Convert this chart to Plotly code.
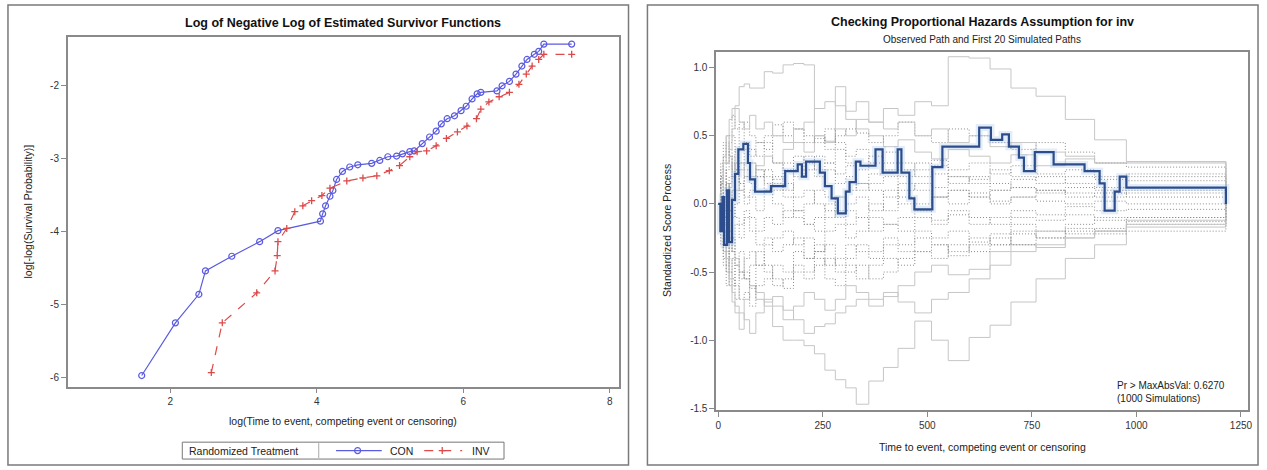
import plotly.graph_objects as go

# ---------------- Left panel: log(-log S(t)) by treatment ----------------
con_logtime = [1.61, 2.07, 2.39, 2.48, 2.84, 3.22, 3.47, 4.05, 4.08, 4.12, 4.18, 4.22,
               4.27, 4.35, 4.45, 4.56, 4.75, 4.86, 4.97, 5.09, 5.17, 5.27, 5.33, 5.44,
               5.54, 5.63, 5.70, 5.78, 5.88, 5.97, 6.04, 6.12, 6.19, 6.24, 6.46, 6.53,
               6.63, 6.72, 6.80, 6.87, 6.97, 7.03, 7.10, 7.48]
con_loglog = [-5.97, -5.25, -4.86, -4.54, -4.34, -4.14, -3.99, -3.86, -3.76, -3.65, -3.52, -3.44,
              -3.29, -3.18, -3.12, -3.09, -3.07, -3.03, -2.98, -2.97, -2.94, -2.91, -2.90, -2.80,
              -2.71, -2.63, -2.53, -2.46, -2.42, -2.35, -2.29, -2.19, -2.12, -2.10, -2.08, -2.01,
              -1.95, -1.85, -1.74, -1.65, -1.58, -1.54, -1.44, -1.44]

inv_logtime = [2.56, 2.71, 3.18, 3.43, 3.46, 3.47, 3.59, 3.70, 3.81, 3.93, 4.07, 4.18,
               4.41, 4.63, 4.82, 4.99, 5.13, 5.27, 5.37, 5.50, 5.63, 5.77, 5.92, 6.05,
               6.18, 6.24, 6.35, 6.49, 6.63, 6.76, 6.86, 6.94, 7.03, 7.10, 7.48]
inv_loglog = [-5.93, -5.25, -4.84, -4.54, -4.33, -4.14, -3.96, -3.73, -3.65, -3.58, -3.51, -3.41,
              -3.31, -3.27, -3.24, -3.17, -3.10, -2.98, -2.91, -2.90, -2.83, -2.73, -2.64, -2.56,
              -2.46, -2.33, -2.23, -2.16, -2.10, -1.99, -1.85, -1.74, -1.65, -1.58, -1.58]

groups = ["CON", "INV"]
left_xticks = [2, 4, 6, 8]
left_yticks = [-6, -5, -4, -3, -2]

# ---------------- Right panel: standardized score process ----------------
obs_time = [0, 5, 10, 14, 21, 26, 33, 40, 48, 60, 71, 76, 88, 126, 160, 190, 200, 210,
            243, 255, 271, 286, 305, 314, 329, 340, 376, 393, 429, 438, 457, 469, 512,
            536, 624, 652, 679, 695, 719, 731, 757, 802, 876, 912, 924, 948, 960, 976, 1214]
obs_score = [0.0, -0.20, 0.05, -0.30, 0.10, -0.28, 0.03, 0.22, 0.40, 0.44, 0.30, 0.18, 0.09,
             0.13, 0.24, 0.29, 0.20, 0.31, 0.23, 0.13, 0.04, -0.07, 0.09, 0.16, 0.31, 0.28,
             0.40, 0.23, 0.40, 0.23, 0.04, -0.04, 0.27, 0.42, 0.56, 0.47, 0.51, 0.42, 0.34,
             0.24, 0.38, 0.29, 0.24, 0.15, -0.05, 0.09, 0.20, 0.12, 0.0]

sim_time = [0, 6, 12, 19, 26, 33, 40, 50, 62, 75, 90, 110, 130, 155, 180, 205, 230, 255,
            280, 305, 330, 360, 395, 430, 470, 510, 550, 600, 650, 700, 760, 830, 900, 976, 1214]

sim_01 = [0, 0.15, 0.35, 0.5, 0.62, 0.70, 0.72, 0.86, 0.88, 0.85, 0.85, 0.97, 0.96, 1.02, 1.03, 1.02, 0.50, 0.46,
          0.86, 0.62, 0.55, 0.50, 0.42, 0.47, 0.38, 0.33, 0.40, 0.35, 0.30, 0.36, 0.28, 0.33, 0.30, 0.31, 0]
sim_02 = [0, -0.15, 0.05, -0.1, 0.12, 0.2, 0.1, 0.25, 0.3, 0.2, 0.28, 0.35, 0.3, 0.4, 0.45, 0.38, 0.5, 0.45,
          0.55, 0.5, 0.62, 0.6, 0.7, 0.65, 0.75, 0.72, 1.08, 1.07, 0.99, 0.85, 0.79, 0.62, 0.47, 0.31, 0]
sim_03 = [0, -0.1, -0.2, -0.3, -0.25, -0.35, -0.4, -0.5, -0.55, -0.6, -0.7, -0.75, -0.9, -1.0, -1.0, -1.04, -1.10, -1.22,
          -1.29, -1.35, -1.47, -1.30, -1.20, -1.06, -0.86, -1.00, -1.15, -0.98, -0.89, -0.72, -0.55, -0.40, -0.30, -0.17, 0]
sim_04 = [0, -0.2, -0.35, -0.5, -0.6, -0.72, -0.8, -0.92, -0.7, -0.6, -0.65, -0.72, -0.68, -0.78, -0.85, -0.95, -0.9, -0.88,
          -0.8, -0.75, -0.7, -0.75, -0.68, -0.6, -0.5, -0.45, -0.52, -0.48, -0.35, -0.3, -0.32, -0.25, -0.2, -0.12, 0]
sim_05 = [0, 0.2, -0.1, 0.3, 0.45, 0.5, 0.38, 0.55, 0.6, 0.5, 0.45, 0.5, 0.58, 0.5, 0.55, 0.45, 0.48, 0.4,
          0.5, 0.55, 0.52, 0.45, 0.5, 0.6, 0.5, 0.45, 0.55, 0.5, 0.45, 0.4, 0.45, 0.38, 0.3, 0.27, 0]
sim_06 = [0, -0.3, -0.1, -0.45, -0.2, -0.35, -0.15, -0.25, -0.1, -0.2, -0.3, -0.25, -0.35, -0.3, -0.25, -0.4, -0.35, -0.3,
          -0.45, -0.4, -0.3, -0.35, -0.25, -0.3, -0.2, -0.25, -0.2, -0.28, -0.22, -0.15, -0.2, -0.18, -0.2, -0.15, 0]
sim_07 = [0, 0.3, 0.1, 0.25, 0.4, 0.2, 0.3, 0.15, 0.25, 0.3, 0.2, 0.25, 0.18, 0.3, 0.2, 0.25, 0.35, 0.3,
          0.22, 0.28, 0.15, 0.22, 0.3, 0.25, 0.2, 0.28, 0.2, 0.18, 0.25, 0.2, 0.15, 0.2, 0.18, 0.2, 0]
sim_08 = [0, -0.2, -0.4, -0.25, -0.5, -0.6, -0.45, -0.55, -0.5, -0.62, -0.45, -0.5, -0.6, -0.55, -0.45, -0.5, -0.4, -0.55,
          -0.6, -0.5, -0.45, -0.55, -0.5, -0.4, -0.35, -0.4, -0.3, -0.35, -0.3, -0.2, -0.25, -0.15, -0.1, -0.1, 0]
sim_09 = [0, 0.1, 0.25, 0.05, 0.15, 0.3, 0.2, 0.1, 0.0, 0.05, -0.05, 0.1, 0.15, 0.05, -0.05, 0.0, 0.1, 0.05,
          -0.1, 0.0, 0.05, -0.05, 0.1, 0.0, -0.05, 0.05, 0.0, 0.08, 0.02, 0.05, 0.1, 0.05, 0.08, 0.05, 0]
sim_10 = [0, -0.1, 0.1, -0.2, -0.05, 0.1, -0.1, -0.15, -0.05, -0.1, -0.2, -0.1, -0.15, -0.05, -0.1, -0.15, -0.2, -0.1,
          -0.05, -0.15, -0.1, -0.2, -0.15, -0.1, -0.05, -0.12, -0.08, -0.15, -0.1, -0.05, -0.08, -0.02, -0.05, -0.04, 0]
sim_11 = [0, 0.25, 0.45, 0.3, 0.5, 0.65, 0.55, 0.6, 0.45, 0.4, 0.35, 0.45, 0.3, 0.25, 0.35, 0.3, 0.2, 0.25,
          0.15, 0.2, 0.1, 0.15, 0.2, 0.1, 0.15, 0.12, 0.2, 0.15, 0.1, 0.18, 0.2, 0.15, 0.12, 0.17, 0]
sim_12 = [0, -0.25, -0.45, -0.6, -0.4, -0.55, -0.7, -0.5, -0.4, -0.35, -0.45, -0.3, -0.25, -0.2, -0.3, -0.25, -0.35, -0.2,
          -0.15, -0.25, -0.2, -0.1, -0.15, -0.2, -0.1, -0.15, -0.05, -0.1, -0.15, -0.1, -0.12, -0.08, -0.12, -0.1, 0]
sim_13 = [0, 0.1, -0.15, 0.05, 0.2, 0.35, 0.25, 0.3, 0.4, 0.35, 0.45, 0.4, 0.5, 0.6, 0.55, 0.5, 0.45, 0.55,
          0.45, 0.35, 0.4, 0.3, 0.38, 0.3, 0.25, 0.32, 0.25, 0.3, 0.22, 0.28, 0.22, 0.25, 0.2, 0.22, 0]
sim_14 = [0, -0.05, -0.2, -0.35, -0.5, -0.4, -0.6, -0.7, -0.65, -0.75, -0.6, -0.55, -0.45, -0.5, -0.35, -0.4, -0.3, -0.45,
          -0.4, -0.3, -0.35, -0.4, -0.3, -0.35, -0.25, -0.3, -0.35, -0.25, -0.3, -0.22, -0.25, -0.2, -0.22, -0.2, 0]
sim_15 = [0, 0.2, 0.05, 0.15, -0.05, 0.1, 0.25, 0.15, 0.05, 0.1, 0.2, 0.1, 0.0, -0.1, -0.05, -0.15, -0.1, 0.0,
          0.05, -0.05, -0.1, 0.0, -0.05, 0.05, 0.0, 0.05, 0.1, 0.05, 0.0, 0.05, 0.02, 0.0, 0.02, 0.0, 0]
sim_16 = [0, 0.15, 0.3, 0.45, 0.35, 0.25, 0.4, 0.3, 0.2, 0.3, 0.25, 0.15, 0.2, 0.1, 0.25, 0.35, 0.25, 0.3,
          0.4, 0.3, 0.25, 0.35, 0.25, 0.2, 0.3, 0.22, 0.15, 0.2, 0.15, 0.12, 0.08, 0.12, 0.1, 0.08, 0]
sim_17 = [0, -0.15, -0.3, -0.15, -0.35, -0.25, -0.45, -0.35, -0.55, -0.45, -0.35, -0.45, -0.55, -0.62, -0.5, -0.55, -0.45, -0.4,
          -0.5, -0.45, -0.55, -0.45, -0.4, -0.45, -0.35, -0.3, -0.38, -0.3, -0.25, -0.3, -0.2, -0.22, -0.18, -0.13, 0]
sim_18 = [0, 0.1, 0.3, 0.5, 0.4, 0.55, 0.7, 0.6, 0.55, 0.65, 0.55, 0.6, 0.5, 0.45, 0.55, 0.6, 0.7, 0.75,
          0.72, 0.68, 0.75, 0.6, 0.55, 0.6, 0.5, 0.55, 0.45, 0.5, 0.42, 0.45, 0.38, 0.35, 0.3, 0.3, 0]
sim_19 = [0, -0.1, -0.25, -0.4, -0.55, -0.65, -0.75, -0.8, -0.85, -0.95, -0.8, -0.7, -0.75, -0.85, -0.75, -0.65, -0.7, -0.78,
          -0.7, -0.6, -0.65, -0.7, -0.65, -0.72, -0.8, -0.7, -0.65, -0.55, -0.45, -0.35, -0.3, -0.25, -0.2, -0.15, 0]
sim_20 = [0, 0.05, -0.05, 0.15, 0.05, -0.1, 0.0, 0.1, 0.2, 0.15, 0.25, 0.2, 0.1, 0.15, 0.05, 0.1, 0.0, -0.05,
          0.05, 0.1, 0.15, 0.1, 0.05, 0.15, 0.1, 0.05, 0.1, 0.05, 0.1, 0.12, 0.1, 0.08, 0.05, 0.1, 0]

# paths drawn as faint solid lines (the rest are dotted)
faint_paths = {1, 2, 3, 4, 18, 19}

right_xticks = [0, 250, 500, 750, 1000, 1250]
right_yticks = [-1.5, -1.0, -0.5, 0.0, 0.5, 1.0]

# ---------------- Figure geometry (pixels) ----------------
W, H = 1267, 470
FONT = "Liberation Sans, Arial, sans-serif"
CON_COLOR = "#5b5be0"
INV_COLOR = "#dd4a4a"


def px(x):
    return x / W


def py(y):
    return 1 - y / H


fig = go.Figure()

con_style = dict(line=dict(color=CON_COLOR, width=1.2),
                 marker=dict(symbol="circle-open", size=6, color=CON_COLOR, line=dict(width=1.2)))
inv_style = dict(line=dict(color=INV_COLOR, width=1.2, dash="dash"),
                 marker=dict(symbol="cross-thin-open", size=5, color=INV_COLOR,
                             line=dict(width=1.3, color=INV_COLOR)))

# Left panel traces
fig.add_trace(go.Scatter(x=con_logtime, y=con_loglog, name=groups[0], mode="lines+markers",
                         xaxis="x", yaxis="y", hoverinfo="skip", **con_style))
fig.add_trace(go.Scatter(x=inv_logtime, y=inv_loglog, name=groups[1], mode="lines+markers",
                         xaxis="x", yaxis="y", hoverinfo="skip", **inv_style))

# Legend keys, drawn on a small helper axis spanning the legend box (0..1 in both directions)
fig.add_trace(go.Scatter(x=[0.478, 0.62], y=[0.5, 0.5], mode="lines", line=con_style["line"],
                         xaxis="x3", yaxis="y3", hoverinfo="skip"))
fig.add_trace(go.Scatter(x=[0.545], y=[0.5], mode="markers", marker=con_style["marker"],
                         xaxis="x3", yaxis="y3", hoverinfo="skip"))
fig.add_trace(go.Scatter(x=[0.752, 0.87], y=[0.5, 0.5], mode="lines", line=inv_style["line"],
                         xaxis="x3", yaxis="y3", hoverinfo="skip"))
fig.add_trace(go.Scatter(x=[0.808], y=[0.5], mode="markers", marker=inv_style["marker"],
                         xaxis="x3", yaxis="y3", hoverinfo="skip"))

# Right panel: simulated paths
sims = [sim_01, sim_02, sim_03, sim_04, sim_05, sim_06, sim_07, sim_08, sim_09, sim_10,
        sim_11, sim_12, sim_13, sim_14, sim_15, sim_16, sim_17, sim_18, sim_19, sim_20]
for i, path in enumerate(sims, start=1):
    if i in faint_paths:
        ln = dict(color="#c6c6c6", width=1, shape="hv")
    else:
        ln = dict(color="#8a8a8a", width=1, dash="1px,2px", shape="hv")
    fig.add_trace(go.Scatter(x=sim_time, y=path, mode="lines", line=ln,
                             xaxis="x2", yaxis="y2", hoverinfo="skip"))

# Observed path with a soft halo underneath
fig.add_trace(go.Scatter(x=obs_time, y=obs_score, mode="lines",
                         line=dict(color="rgba(150,190,235,0.28)", width=7, shape="hv"),
                         xaxis="x2", yaxis="y2", hoverinfo="skip"))
fig.add_trace(go.Scatter(x=obs_time, y=obs_score, mode="lines",
                         line=dict(color="#2c4c8c", width=2.2, shape="hv"),
                         xaxis="x2", yaxis="y2", hoverinfo="skip"))

axis_common = dict(showline=True, linecolor="#8a8a8a", linewidth=1.5, mirror=True,
                   ticks="outside", ticklen=5, tickcolor="#8a8a8a", tickwidth=1,
                   showgrid=False, zeroline=False,
                   tickfont=dict(family=FONT, size=10, color="#333333"))
hidden_axis = dict(visible=False, range=[0, 1], fixedrange=True, showgrid=False, zeroline=False)

fig.update_layout(
    width=W, height=H,
    margin=dict(l=0, r=0, t=0, b=0, pad=0),
    paper_bgcolor="white", plot_bgcolor="white",
    font=dict(family=FONT, color="#222222"),
    showlegend=False,
    xaxis=dict(domain=[px(67), px(620)], range=[0.6, 8.12], tickvals=left_xticks,
               ticktext=[str(v) for v in left_xticks], anchor="y", **axis_common),
    yaxis=dict(domain=[py(389), py(37)], range=[-6.12, -1.34], tickvals=left_yticks,
               ticktext=[str(v) for v in left_yticks], anchor="x", **axis_common),
    xaxis2=dict(domain=[px(718), px(1252)], range=[-5, 1267], tickvals=right_xticks,
                ticktext=[str(v) for v in right_xticks], anchor="y2", **axis_common),
    yaxis2=dict(domain=[py(413), py(52)], range=[-1.515, 1.117], tickvals=right_yticks,
                ticktext=[f"{v:.1f}" for v in right_yticks], anchor="x2", **axis_common),
    xaxis3=dict(domain=[px(182), px(505)], anchor="y3", **hidden_axis),
    yaxis3=dict(domain=[py(462), py(445)], anchor="x3", **hidden_axis),
)

# Panel frames
for x0, x1 in [(7, 630), (649, 1262)]:
    fig.add_shape(type="rect", xref="paper", yref="paper",
                  x0=px(x0), x1=px(x1), y0=py(468), y1=py(5),
                  line=dict(color="#7a7a7a", width=1.5), fillcolor="rgba(0,0,0,0)", layer="below")

# Legend box and separator
fig.add_shape(type="rect", xref="paper", yref="paper",
              x0=px(182), x1=px(505), y0=py(462), y1=py(445),
              line=dict(color="#777777", width=1), fillcolor="rgba(0,0,0,0)")
fig.add_shape(type="line", xref="paper", yref="paper",
              x0=px(319), x1=px(319), y0=py(461), y1=py(446),
              line=dict(color="#aaaaaa", width=1))

ann = [
    dict(text="<b>Log of Negative Log of Estimated Survivor Functions</b>", x=px(343), y=py(23),
         size=12.5, color="#111111"),
    dict(text="log(Time to event, competing event or censoring)", x=px(343), y=py(424),
         size=10.5, color="#222222"),
    dict(text="log[-log(Survival Probability)]", x=px(27), y=py(213), size=10.5,
         color="#222222", angle=-90),
    dict(text="<b>Checking Proportional Hazards Assumption for inv</b>", x=px(985), y=py(22),
         size=12.5, color="#111111"),
    dict(text="Observed Path and First 20 Simulated Paths", x=px(985), y=py(40),
         size=10, color="#222222"),
    dict(text="Time to event, competing event or censoring", x=px(985), y=py(450),
         size=10.5, color="#222222"),
    dict(text="Standardized Score Process", x=px(668), y=py(232), size=10.5,
         color="#222222", angle=-90),
]
for a in ann:
    fig.add_annotation(text=a["text"], x=a["x"], y=a["y"], xref="paper", yref="paper",
                       showarrow=False, xanchor="center", yanchor="middle",
                       textangle=a.get("angle", 0),
                       font=dict(family=FONT, size=a["size"], color=a["color"]))

# Legend labels
for text, x in [("Randomized Treatment", 187), (groups[0], 389), (groups[1], 471)]:
    fig.add_annotation(text=text, x=px(x), y=py(453.5), xref="paper", yref="paper",
                       showarrow=False, xanchor="left", yanchor="middle",
                       font=dict(family=FONT, size=10.5, color="#222222"))

fig.add_annotation(text="Pr > MaxAbsVal: 0.6270<br>(1000 Simulations)", x=px(1118), y=py(395),
                   xref="paper", yref="paper", showarrow=False, xanchor="left", yanchor="middle",
                   align="left", font=dict(family=FONT, size=10, color="#222222"))

fig.write_html("out.html")
